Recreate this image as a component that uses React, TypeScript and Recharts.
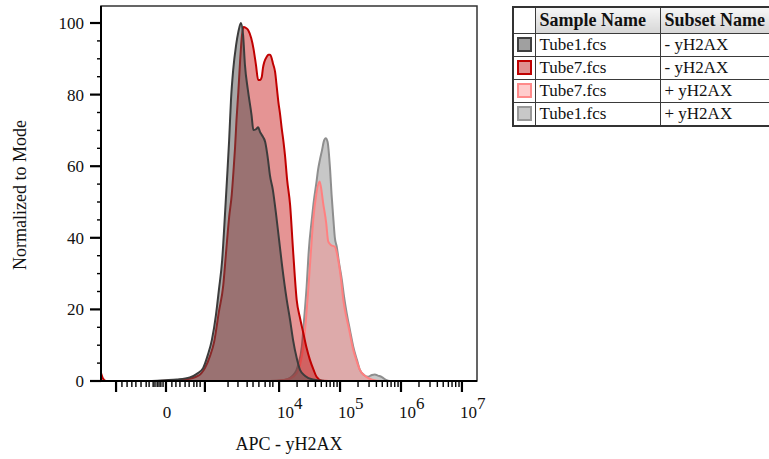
import React from 'react';
import { AreaChart, Area, XAxis, YAxis, ReferenceArea } from 'recharts';

// x = display channel (0..1024, biexponential APC scale), y = % of mode
const TUBE1_NEG: [number, number][] = [
  [0, 0], [133, 0], [174, 0.2], [207, 0.4], [242, 1.0], [261, 2.0], [278, 3.6], [291, 7.3],
  [302, 11.5], [313, 18.4], [321, 25.4], [330, 33.8], [336, 43.6], [343, 56.1], [349, 67.3],
  [354, 78.5], [360, 86.9], [368, 93.9], [374, 97.5], [381, 100], [387, 96.6], [392, 88.3],
  [400, 81.3], [410, 74.3], [415, 70.1], [423, 70.4], [428, 70.9], [433, 69.6], [438, 68.7],
  [447, 66.8], [455, 61.7], [460, 57.5], [468, 53.4], [477, 46.4], [485, 39.4], [493, 32.4],
  [506, 22.6], [515, 17.0], [523, 11.5], [533, 6.4], [542, 3.1], [556, 1.4], [577, 0.4],
  [610, 0], [1024, 0],
];

const TUBE7_NEG: [number, number][] = [
  [0, 2.2], [5, 0.8], [14, 0], [133, 0], [188, 0.1], [229, 0.4], [264, 1.4], [283, 3.6],
  [297, 7.0], [308, 10.9], [321, 19.3], [333, 26.8], [340, 35.2], [349, 45.8], [356, 52.0],
  [361, 58.9], [365, 65.1], [369, 72.9], [374, 80.7], [379, 89.7], [384, 96.6], [388, 98.9],
  [395, 98.6], [401, 98.0], [409, 95.8], [415, 93.0], [422, 88.3], [428, 84.1], [433, 84.1],
  [438, 85.0], [441, 87.4], [445, 89.2], [451, 90.5], [456, 91.1], [460, 91.1], [465, 90.1],
  [468, 88.8], [474, 86.4], [479, 81.8], [483, 78.0], [488, 74.3], [492, 70.7], [497, 66.8],
  [501, 63.1], [507, 56.1], [515, 49.2], [523, 36.6], [533, 22.6], [542, 17.6], [551, 13.4],
  [560, 9.2], [569, 5.9], [579, 3.1], [587, 1.2], [602, 0.1], [637, 0], [1024, 0],
];

const TUBE7_POS: [number, number][] = [
  [0, 0], [460, 0], [496, 0.3], [515, 0.7], [533, 2.2], [542, 4.5], [551, 9.6], [558, 17.0],
  [565, 26.3], [572, 36.6], [578, 45.0], [586, 52.0], [595, 55.7], [599, 54.2], [605, 49.7],
  [613, 44.4], [619, 38.9], [626, 38.0], [637, 37.5], [646, 33.8], [654, 28.2], [660, 22.6],
  [667, 18.4], [674, 15.2], [687, 8.7], [697, 5.3], [705, 3.1], [716, 1.7], [728, 0.8],
  [751, 0.1], [773, 0], [1024, 0],
];

const TUBE1_POS: [number, number][] = [
  [0, 0], [460, 0], [501, 0.3], [528, 2.2], [537, 4.5], [547, 9.6], [553, 17.0], [560, 26.3],
  [566, 36.6], [574, 45.0], [580, 50.6], [587, 55.7], [591, 58.9], [596, 61.7], [602, 64.5],
  [607, 67.0], [612, 67.8], [617, 66.8], [624, 58.9], [628, 52.0], [633, 45.0], [637, 39.9],
  [642, 37.5], [648, 33.2], [656, 28.2], [662, 23.5], [669, 19.0], [678, 14.2], [687, 9.6],
  [697, 5.9], [705, 3.1], [716, 1.7], [728, 1.2], [738, 1.7], [746, 1.8], [754, 1.5],
  [765, 1.1], [776, 0.3], [787, 0], [1024, 0],
];

const X_MAJOR = [41, 177, 283, 485, 651, 817, 983];
const X_MAJOR_LABELS = ['', '0', '', '10^4', '10^5', '10^6', '10^7'];
const X_MINOR = [
  57, 71, 84, 95, 109, 123, 131, 142, 147, 153, 158, 163, 169, 193, 204, 215, 229, 240, 253,
  261, 270, 346, 373, 398, 414, 430, 447, 460, 468, 534, 564, 584, 600, 614, 624, 634, 643,
  700, 730, 750, 766, 780, 790, 800, 809, 866, 896, 916, 932, 946, 956, 966, 975,
];
const Y_TICKS = [0, 5, 10, 15, 20, 25, 30, 35, 40, 45, 50, 55, 60, 65, 70, 75, 80, 85, 90, 95, 100];

const LEGEND = [
  { sample: 'Tube1.fcs', subset: '- yH2AX', fill: '#a0a0a0', border: '#404040' },
  { sample: 'Tube7.fcs', subset: '- yH2AX', fill: '#e09090', border: '#c00000' },
  { sample: 'Tube7.fcs', subset: '+ yH2AX', fill: '#ffcccc', border: '#ff8a8a' },
  { sample: 'Tube1.fcs', subset: '+ yH2AX', fill: '#c8c8c8', border: '#999999' },
];

const FONT = '"Liberation Serif", "Times New Roman", serif';

const toPts = (arr: [number, number][]) => arr.map(([x, y]) => ({ x, y }));

function XTick(props: any) {
  const { x, y, payload } = props;
  const idx = X_MAJOR.indexOf(payload.value);
  const major = idx >= 0;
  const label = major ? X_MAJOR_LABELS[idx] : '';
  let text = null;
  if (label === '0') {
    text = (
      <text x={x + 1} y={y + 37} textAnchor="middle" fontSize={17} fontFamily={FONT} fill="#111">0</text>
    );
  } else if (label) {
    const [base, exp] = label.split('^');
    text = (
      <text x={x - 2} y={y + 37} textAnchor="start" fontSize={17} fontFamily={FONT} fill="#111">
        {base}
        <tspan dy={-9}>{exp}</tspan>
      </text>
    );
  }
  return (
    <g>
      <line x1={x} x2={x} y1={y} y2={y + (major ? 11 : 6)} stroke="#000" strokeWidth={major ? 2.2 : 1.4} />
      {text}
    </g>
  );
}

function YTick(props: any) {
  const { x, y, payload } = props;
  const major = payload.value % 20 === 0;
  return (
    <g>
      <line x1={x} x2={x - (major ? 11 : 4)} y1={y} y2={y} stroke="#000" strokeWidth={major ? 2.2 : 1.4} />
      {major && (
        <text x={84} y={y + 6} textAnchor="end" fontSize={17} fontFamily={FONT} fill="#111">
          {payload.value}
        </text>
      )}
    </g>
  );
}

const cell: React.CSSProperties = {
  border: '1.5px solid #3a3a3a',
  padding: '0 4px',
  height: 22,
  whiteSpace: 'nowrap',
  overflow: 'hidden',
  textAlign: 'left',
};

const headCell: React.CSSProperties = {
  ...cell,
  fontSize: 18,
  fontWeight: 'bold',
  background: 'linear-gradient(#f6f6f6, #d6d6d6)',
};

export default function App() {
  return (
    <div style={{ position: 'absolute', left: 0, top: 0, width: 769, height: 459, background: '#fff', overflow: 'hidden' }}>
      <AreaChart width={769} height={459} margin={{ top: 6, right: 292, bottom: 0, left: 0 }}>
        <XAxis
          type="number"
          dataKey="x"
          domain={[0, 1024]}
          allowDataOverflow
          ticks={[...X_MAJOR, ...X_MINOR].sort((a, b) => a - b)}
          interval={0}
          tick={<XTick />}
          tickLine={false}
          tickSize={0}
          tickMargin={0}
          height={78}
          axisLine={{ stroke: '#000', strokeWidth: 2 }}
          label={{
            content: () => (
              <text x={289} y={450} textAnchor="middle" fontSize={18} fontFamily={FONT} fill="#111">APC - yH2AX</text>
            ),
          }}
        />
        <YAxis
          type="number"
          domain={[0, 104.75]}
          allowDataOverflow
          ticks={Y_TICKS}
          interval={0}
          tick={<YTick />}
          tickLine={false}
          tickSize={0}
          tickMargin={0}
          width={101}
          axisLine={{ stroke: '#000', strokeWidth: 2 }}
          label={{
            content: () => (
              <text x={26} y={195} transform="rotate(-90 26 195)" textAnchor="middle" fontSize={18} fontFamily={FONT} fill="#111">
                Normalized to Mode
              </text>
            ),
          }}
        />
        <Area data={toPts(TUBE1_POS)} dataKey="y" type="monotone" stroke="#8e8e8e" strokeWidth={2} fill="#909090" fillOpacity={0.5} isAnimationActive={false} dot={false} activeDot={false} />
        <Area data={toPts(TUBE7_POS)} dataKey="y" type="monotone" stroke="#ff8080" strokeWidth={2} fill="#ff8080" fillOpacity={0.4} isAnimationActive={false} dot={false} activeDot={false} />
        <Area data={toPts(TUBE7_NEG)} dataKey="y" type="monotone" stroke="#c00000" strokeWidth={2} fill="#c00000" fillOpacity={0.42} isAnimationActive={false} dot={false} activeDot={false} />
        <Area data={toPts(TUBE1_NEG)} dataKey="y" type="monotone" stroke="#3c3c3c" strokeWidth={2} fill="#505050" fillOpacity={0.5} isAnimationActive={false} dot={false} activeDot={false} />
        <ReferenceArea x1={0} x2={1024} y1={0} y2={104.75} fill="none" stroke="#333" strokeWidth={1.5} ifOverflow="visible" />
      </AreaChart>
      <table
        style={{
          position: 'absolute',
          left: 512,
          top: 6,
          width: 290,
          tableLayout: 'fixed',
          borderCollapse: 'collapse',
          fontFamily: FONT,
          fontSize: 17,
          color: '#111',
          border: '2px solid #333',
        }}
      >
        <colgroup>
          <col style={{ width: 22 }} />
          <col style={{ width: 125 }} />
          <col style={{ width: 143 }} />
        </colgroup>
        <thead>
          <tr style={{ height: 26 }}>
            <th style={{ ...cell, background: '#fff' }}></th>
            <th style={headCell}>Sample Name</th>
            <th style={headCell}>Subset Name</th>
          </tr>
        </thead>
        <tbody>
          {LEGEND.map((r, i) => (
            <tr key={i} style={{ height: 23 }}>
              <td style={{ ...cell, padding: '0 3px' }}>
                <div style={{ width: 11, height: 11, background: r.fill, border: `2px solid ${r.border}` }} />
              </td>
              <td style={cell}>{r.sample}</td>
              <td style={cell}>{r.subset}</td>
            </tr>
          ))}
        </tbody>
      </table>
    </div>
  );
}
